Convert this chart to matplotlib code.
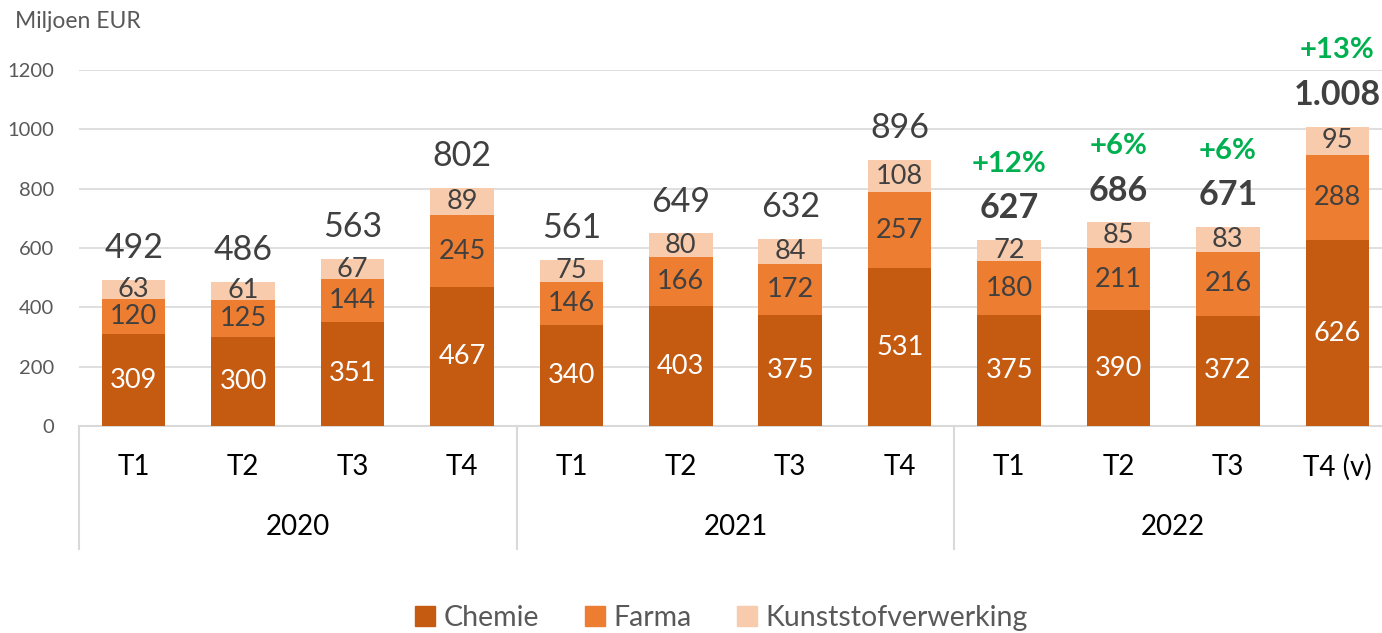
import numpy as np
import matplotlib
matplotlib.use("Agg")
import matplotlib.pyplot as plt
from matplotlib.patches import Patch

plt.rcParams['font.family'] = ['Lato', 'DejaVu Sans']

quarters = ['T1', 'T2', 'T3', 'T4', 'T1', 'T2', 'T3', 'T4', 'T1', 'T2', 'T3', 'T4 (v)']
years = ['2020', '2021', '2022']
chemie = [309, 300, 351, 467, 340, 403, 375, 531, 375, 390, 372, 626]
farma = [120, 125, 144, 245, 146, 166, 172, 257, 180, 211, 216, 288]
kunststof = [63, 61, 67, 89, 75, 80, 84, 108, 72, 85, 83, 95]
totals = [492, 486, 563, 802, 561, 649, 632, 896, 627, 686, 671, 1008]
growth = [None] * 8 + ['+12%', '+6%', '+6%', '+13%']

c_chem = '#C55A11'
c_farma = '#ED7D31'
c_kunst = '#F8CBAD'
dark = '#404040'
green = '#00B050'

fig = plt.figure(figsize=(13.82, 6.33), dpi=100)
ax = fig.add_axes([79 / 1382, 1 - 426 / 633, 1313 / 1382, 356 / 633])

x = np.arange(len(quarters))
chem = np.array(chemie)
farm = np.array(farma)
kuns = np.array(kunststof)
w = 0.58
b1 = ax.bar(x, chem, w, color=c_chem, zorder=3)
b2 = ax.bar(x, farm, w, bottom=chem, color=c_farma, zorder=3)
b3 = ax.bar(x, kuns, w, bottom=chem + farm, color=c_kunst, zorder=3)

ax.bar_label(b1, labels=[str(v) for v in chemie], label_type='center', color='white', fontsize=19.5)
ax.bar_label(b2, labels=[str(v) for v in farma], label_type='center', color=dark, fontsize=19.5)
ax.bar_label(b3, labels=[str(v) for v in kunststof], label_type='center', color=dark, fontsize=19.5)

tops = chem + farm + kuns
for i, t in enumerate(totals):
    bold = growth[i] is not None
    lbl = f"{t:,}".replace(",", ".")
    ax.annotate(lbl, (x[i], tops[i]), xytext=(0, 23), textcoords='offset points',
                ha='center', va='center', fontsize=24.5, color=dark,
                fontweight='bold' if bold else 'normal', annotation_clip=False)
    if bold:
        ax.annotate(growth[i], (x[i], tops[i]), xytext=(0, 55), textcoords='offset points',
                    ha='center', va='center', fontsize=21, color=green,
                    fontweight='bold', annotation_clip=False)

ax.set_xlim(-0.5, len(quarters) - 0.5)
ax.set_ylim(0, 1200)
ax.set_yticks(range(0, 1201, 200))
ax.tick_params(axis='y', length=0, labelsize=14.5, labelcolor='#595959', pad=18)
ax.tick_params(axis='x', length=0, labelbottom=False)
ax.grid(axis='y', color='#D9D9D9', linewidth=1.2, zorder=0)
for s in ['top', 'right', 'left']:
    ax.spines[s].set_visible(False)
ax.spines['bottom'].set_color('#D9D9D9')
ax.spines['bottom'].set_linewidth(1.5)

# two-level category axis
trans = ax.get_xaxis_transform()
for i, q in enumerate(quarters):
    ax.text(x[i], -0.115, q, transform=trans, ha='center', va='center', fontsize=20, color='black')
for j, y in enumerate(years):
    ax.text(j * 4 + 1.5, -0.285, y, transform=trans, ha='center', va='center', fontsize=20, color='black')
for sep in [-0.5, 3.5, 7.5]:
    ax.plot([sep, sep], [0, -0.345], transform=trans, color='#D9D9D9', lw=1.5, clip_on=False)

fig.text(15 / 1382, 1 - 22 / 633, 'Miljoen EUR', ha='left', va='center', fontsize=16.5, color='#595959')

handles = [Patch(color=c_chem, label='Chemie'), Patch(color=c_farma, label='Farma'),
           Patch(color=c_kunst, label='Kunststofverwerking')]
leg = fig.legend(handles=handles, loc='center', bbox_to_anchor=(0.522, 1 - 618 / 633), ncol=3,
                 frameon=False, fontsize=20.5, handlelength=0.7, handleheight=0.7,
                 handletextpad=0.3, columnspacing=1.6)
for t in leg.get_texts():
    t.set_color('#595959')

fig.savefig('out.png', dpi=100)
